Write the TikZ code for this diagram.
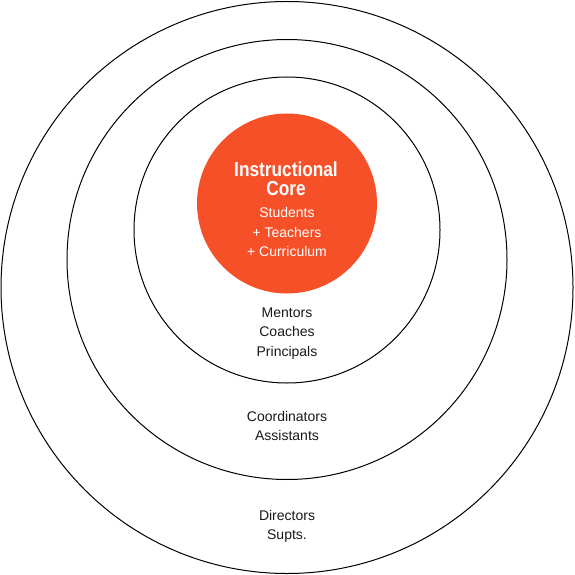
\documentclass[tikz,border=0pt]{standalone}
\usepackage{fontspec}
\setmainfont{Liberation Sans}
\newfontfamily\condfont[FakeStretch=0.85]{Liberation Sans}
\definecolor{coreorange}{RGB}{246,80,40}
\begin{document}
\begin{tikzpicture}[x=1pt,y=-1pt,
  ring/.style={draw=black,line width=1pt},
  core/.style={fill=coreorange,draw=none},
  title/.style={anchor=base,inner sep=0pt,text=white,font=\condfont\bfseries\fontsize{20.3}{20}\selectfont},
  whitetxt/.style={anchor=base,inner sep=0pt,text=white,font=\fontsize{14}{16}\selectfont},
  label/.style={anchor=base,inner sep=0pt,text=black!90,font=\fontsize{14}{16}\selectfont}]
\useasboundingbox (0,0) rectangle (574,575);
\fill[white] (0,0) rectangle (574,575);
\draw[ring] (287,287.5) circle[radius=286];
\draw[ring] (287,259.5) circle[radius=220];
\draw[ring] (287,230) circle[radius=153];
\fill[core] (287,203.5) circle[radius=90];
\node[title] (instr) at (286,176) {Instructional};
\node[title] (core) at (286,195.5) {Core};
\node[whitetxt] (stud) at (287,217.5) {Students};
\node[whitetxt] (teach) at (287,237) {+ Teachers};
\node[whitetxt] (curr) at (287,256) {+ Curriculum};
\node[label] (ment) at (287,317) {Mentors};
\node[label] (coach) at (287,336.5) {Coaches};
\node[label] (princ) at (287,356) {Principals};
\node[label] (coord) at (287,421.5) {Coordinators};
\node[label] (assist) at (287,440.5) {Assistants};
\node[label] (dir) at (287,520.5) {Directors};
\node[label] (supts) at (287,539.5) {Supts.};
\end{tikzpicture}
\end{document}
